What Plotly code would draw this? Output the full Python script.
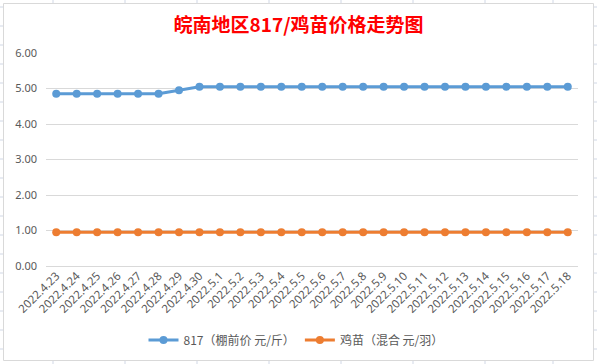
import plotly.graph_objects as go

dates = ["2022.4.23", "2022.4.24", "2022.4.25", "2022.4.26", "2022.4.27", "2022.4.28",
         "2022.4.29", "2022.4.30", "2022.5.1", "2022.5.2", "2022.5.3", "2022.5.4",
         "2022.5.5", "2022.5.6", "2022.5.7", "2022.5.8", "2022.5.9", "2022.5.10",
         "2022.5.11", "2022.5.12", "2022.5.13", "2022.5.14", "2022.5.15", "2022.5.16",
         "2022.5.17", "2022.5.18"]
price_817 = [4.85, 4.85, 4.85, 4.85, 4.85, 4.85, 4.95, 5.05, 5.05, 5.05, 5.05, 5.05,
             5.05, 5.05, 5.05, 5.05, 5.05, 5.05, 5.05, 5.05, 5.05, 5.05, 5.05, 5.05,
             5.05, 5.05]
price_chick = [0.95] * 26
y_ticks = [0, 1, 2, 3, 4, 5, 6]

W, H = 597, 364
L, R, T, B = 46, 578, 53, 266

def px(x):
    return (x - L) / (R - L)

def py(y):
    return 1 - (y - T) / (B - T)

fig = go.Figure()
fig.add_trace(go.Scatter(x=dates, y=price_817, mode="lines+markers", name="817（棚前价 元/斤）",
                         line=dict(color="#5B9BD5", width=3), marker=dict(size=8, color="#5B9BD5")))
fig.add_trace(go.Scatter(x=dates, y=price_chick, mode="lines+markers", name="鸡苗（混合 元/羽）",
                         line=dict(color="#ED7D31", width=3), marker=dict(size=8, color="#ED7D31")))

shapes = []
grid_col = "#d0d7e5"
# spreadsheet lines outside chart area
for yy in [7, 26, 45, 64, 83, 102, 121, 140, 159, 178, 197, 216, 235, 254, 273, 292, 311, 330, 349]:
    shapes.append(dict(type="line", xref="paper", yref="paper", x0=px(0), x1=px(3), y0=py(yy), y1=py(yy),
                       line=dict(color=grid_col, width=1), layer="below"))
    shapes.append(dict(type="line", xref="paper", yref="paper", x0=px(594), x1=px(597), y0=py(yy), y1=py(yy),
                       line=dict(color=grid_col, width=1), layer="below"))
for xx in [53, 125, 197, 269, 341, 413, 485, 553]:
    shapes.append(dict(type="line", xref="paper", yref="paper", x0=px(xx), x1=px(xx), y0=py(0), y1=py(3),
                       line=dict(color=grid_col, width=1), layer="below"))
    shapes.append(dict(type="line", xref="paper", yref="paper", x0=px(xx), x1=px(xx), y0=py(361), y1=py(364),
                       line=dict(color=grid_col, width=1), layer="below"))
# chart area border
shapes.append(dict(type="rect", xref="paper", yref="paper", x0=px(3.5), x1=px(593.5), y0=py(3.5), y1=py(360.5),
                   line=dict(color="#d9d9d9", width=1), fillcolor="white", layer="below"))

fig.update_layout(
    width=W, height=H,
    margin=dict(l=L, r=W - R, t=T, b=H - B, autoexpand=False),
    paper_bgcolor="white", plot_bgcolor="rgba(0,0,0,0)",
    font=dict(family="Noto Sans CJK SC, Noto Sans, sans-serif", color="#595959", size=11),
    title=dict(text="<b>皖南地区817/鸡苗价格走势图</b>", x=0.5, xanchor="center", xref="container",
               y=1 - 25 / H, yanchor="middle", yref="container",
               font=dict(size=19, color="#FF0000", family="Noto Sans CJK SC")),
    xaxis=dict(type="category", tickangle=-45, showgrid=False, showline=False, ticks="", automargin=False,
               tickfont=dict(size=11.5, color="#595959", family="Noto Sans, sans-serif"),
               range=[-0.5, len(dates) - 0.5]),
    yaxis=dict(range=[0, 6], tickvals=y_ticks, tickformat=".2f", showgrid=True, gridcolor="#d9d9d9",
               gridwidth=1, zeroline=True, zerolinecolor="#d9d9d9", zerolinewidth=1, showline=False,
               ticks="", ticklabelstandoff=8, automargin=False,
               tickfont=dict(size=11, color="#595959", family="Noto Sans, sans-serif")),
    legend=dict(orientation="h", x=px(296), xanchor="center", y=py(340), yanchor="middle",
                font=dict(size=12, color="#595959"), itemwidth=30, bgcolor="rgba(0,0,0,0)"),
    shapes=shapes,
    showlegend=True,
)

fig.write_html("out.html", config={"displayModeBar": False},
               post_script="document.body.style.margin='0';document.body.style.padding='0';")
